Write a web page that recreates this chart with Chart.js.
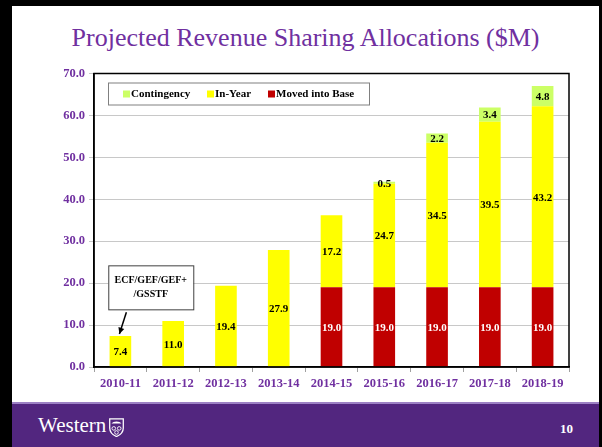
<!DOCTYPE html>
<html>
<head>
<meta charset="utf-8">
<script src="https://cdn.jsdelivr.net/npm/chart.js@4"></script>
<style>
  body { margin: 0; width: 602px; height: 447px; background: #000; overflow: hidden; position: relative; font-family: 'Liberation Serif', serif; }
  #slide { position: absolute; left: 12px; top: 6px; width: 587px; height: 441px; background: #fff; }
  #title { position: absolute; left: 0; top: 17px; width: 587px; text-align: center; color: #7030A0; font-size: 26px; }
  #chartBox { position: absolute; left: 0; top: 56px; width: 587px; height: 338px; }
  #footer { position: absolute; left: 0; top: 396px; width: 587px; height: 45px; background: #52267F; border-top: 2px solid #9c80c4; box-sizing: border-box; }
  #brand { position: absolute; left: 26px; top: 9px; color: #fff; font-size: 21px; }
  #shield { position: absolute; left: 96px; top: 14px; }
  #page { position: absolute; left: 548px; top: 17px; color: #fff; font-size: 13px; font-weight: bold; }
</style>
</head>
<body>
<div id="slide">
  <div id="title">Projected Revenue Sharing Allocations ($M)</div>
  <div id="chartBox"><canvas id="revChart"></canvas></div>
  <div id="footer">
    <div id="brand">Western</div>
    <svg id="shield" width="17" height="19" viewBox="0 0 17 21">
      <path d="M1 1 H16 V11 C16 16 12 19 8.5 20.5 C5 19 1 16 1 11 Z" fill="none" stroke="#fff" stroke-width="1.4"/>
      <path d="M3 6 C5 3 12 3 14 6 Z" fill="#fff"/>
      <circle cx="5.5" cy="11.5" r="2" fill="none" stroke="#fff" stroke-width="1"/>
      <circle cx="11.5" cy="11.5" r="2" fill="none" stroke="#fff" stroke-width="1"/>
      <circle cx="8.5" cy="16" r="2" fill="none" stroke="#fff" stroke-width="1"/>
    </svg>
    <div id="page">10</div>
  </div>
</div>
<script>
const years = ["2010-11", "2011-12", "2012-13", "2013-14", "2014-15", "2015-16", "2016-17", "2017-18", "2018-19"];
const movedIntoBase = [0, 0, 0, 0, 19.0, 19.0, 19.0, 19.0, 19.0];
const inYear = [7.4, 11.0, 19.4, 27.9, 17.2, 24.7, 34.5, 39.5, 43.2];
const contingency = [0, 0, 0, 0, 0, 0.5, 2.2, 3.4, 4.8];
const yTicks = [0, 10, 20, 30, 40, 50, 60, 70];

const purple = '#7030A0';
const serifBold = "bold 11px 'Liberation Serif'";

// value labels in the middle of each segment
const valueLabels = {
    id: 'valueLabels',
    afterDatasetsDraw(chart) {
        const ctx = chart.ctx;
        ctx.save();
        ctx.font = serifBold;
        ctx.textAlign = 'center';
        ctx.textBaseline = 'middle';
        chart.data.datasets.forEach((ds, i) => {
            const meta = chart.getDatasetMeta(i);
            meta.data.forEach((bar, j) => {
                const v = ds.data[j];
                if (!v) return;
                ctx.fillStyle = i === 0 ? '#fff' : '#000';
                ctx.fillText(v.toFixed(1), bar.x, (bar.y + bar.base) / 2 + 1);
            });
        });
        ctx.restore();
    }
};

// frame, legend box and the ECF note
const extras = {
    id: 'extras',
    afterDraw(chart) {
        const ctx = chart.ctx;
        const a = chart.chartArea;
        const x = chart.scales.x, y = chart.scales.y;
        ctx.save();
        ctx.strokeStyle = '#000';
        ctx.lineWidth = 1.5;
        ctx.strokeRect(a.left, a.top, a.right - a.left, a.bottom - a.top);

        // legend
        const lx = a.left + 14, ly = a.top + 9;
        ctx.fillStyle = '#fff';
        ctx.fillRect(lx, ly, 261, 22);
        ctx.strokeStyle = '#808080';
        ctx.lineWidth = 1;
        ctx.strokeRect(lx + 0.5, ly + 0.5, 261, 22);
        ctx.font = serifBold;
        ctx.textBaseline = 'middle';
        ctx.textAlign = 'left';
        const order = [2, 1, 0];
        const offs = [15, 99, 160];
        order.forEach((di, k) => {
            const ds = chart.data.datasets[di];
            ctx.fillStyle = ds.backgroundColor;
            ctx.fillRect(lx + offs[k], ly + 8, 7, 7);
            ctx.fillStyle = '#000';
            ctx.fillText(ds.label, lx + offs[k] + 8, ly + 12);
        });

        // note box near the first bar
        const cx = (x.getPixelForValue(0) + x.getPixelForValue(1)) / 2 + 4;
        const cy = y.getPixelForValue(19);
        const bw = 85, bh = 44;
        ctx.fillStyle = '#fff';
        ctx.fillRect(cx - bw / 2, cy - bh / 2, bw, bh);
        ctx.strokeStyle = '#404040';
        ctx.strokeRect(cx - bw / 2 + 0.5, cy - bh / 2 + 0.5, bw, bh);
        ctx.fillStyle = '#000';
        ctx.textAlign = 'center';
        ctx.font = "bold 10px 'Liberation Serif'";
        ctx.fillText('ECF/GEF/GEF+', cx, cy - 7);
        ctx.fillText('/GSSTF', cx, cy + 7);

        // arrow down to the first bar
        const tipX = x.getPixelForValue(0) - 1;
        const tipY = y.getPixelForValue(inYear[0]) - 2;
        const sx = tipX + 7, sy = cy + bh / 2 + 3;
        ctx.strokeStyle = '#000';
        ctx.lineWidth = 1.5;
        ctx.beginPath();
        ctx.moveTo(sx, sy);
        ctx.lineTo(tipX, tipY);
        ctx.stroke();
        const ang = Math.atan2(tipY - sy, tipX - sx);
        ctx.beginPath();
        ctx.moveTo(tipX, tipY);
        ctx.lineTo(tipX - 7 * Math.cos(ang - 0.45), tipY - 7 * Math.sin(ang - 0.45));
        ctx.lineTo(tipX - 7 * Math.cos(ang + 0.45), tipY - 7 * Math.sin(ang + 0.45));
        ctx.closePath();
        ctx.fillStyle = '#000';
        ctx.fill();
        ctx.restore();
    }
};

new Chart(document.getElementById('revChart'), {
    type: 'bar',
    data: {
        labels: years,
        datasets: [
            { label: 'Moved into Base', data: movedIntoBase, backgroundColor: '#C00000' },
            { label: 'In-Year', data: inYear, backgroundColor: '#FFFF00' },
            { label: 'Contingency', data: contingency, backgroundColor: '#CCFF66' }
        ]
    },
    options: {
        responsive: true,
        maintainAspectRatio: false,
        animation: false,
        layout: { padding: { top: 11, right: 30, left: 0, bottom: 0 } },
        datasets: { bar: { barPercentage: 0.41, categoryPercentage: 1 } },
        plugins: { legend: { display: false }, tooltip: { enabled: false } },
        scales: {
            x: {
                stacked: true,
                grid: { offset: true, drawOnChartArea: false, drawTicks: true, tickLength: 5, color: '#a0a0a0' },
                border: { color: '#000', width: 1.5 },
                ticks: { color: purple, font: { family: 'Liberation Serif', size: 12.5, weight: 'bold' }, padding: 4 },
                afterFit(s) { s.height = 33; }
            },
            y: {
                stacked: true,
                min: 0,
                max: 70,
                afterBuildTicks(s) { s.ticks = yTicks.map(v => ({ value: v })); },
                grid: { color: '#c8c8c8', tickLength: 5 },
                border: { color: '#000', width: 1.5 },
                ticks: {
                    color: purple,
                    font: { family: 'Liberation Serif', size: 12.5, weight: 'bold' },
                    padding: 4,
                    callback: v => v.toFixed(1)
                },
                afterFit(s) { s.width = 82; }
            }
        }
    },
    plugins: [valueLabels, extras]
});
</script>
</body>
</html>
